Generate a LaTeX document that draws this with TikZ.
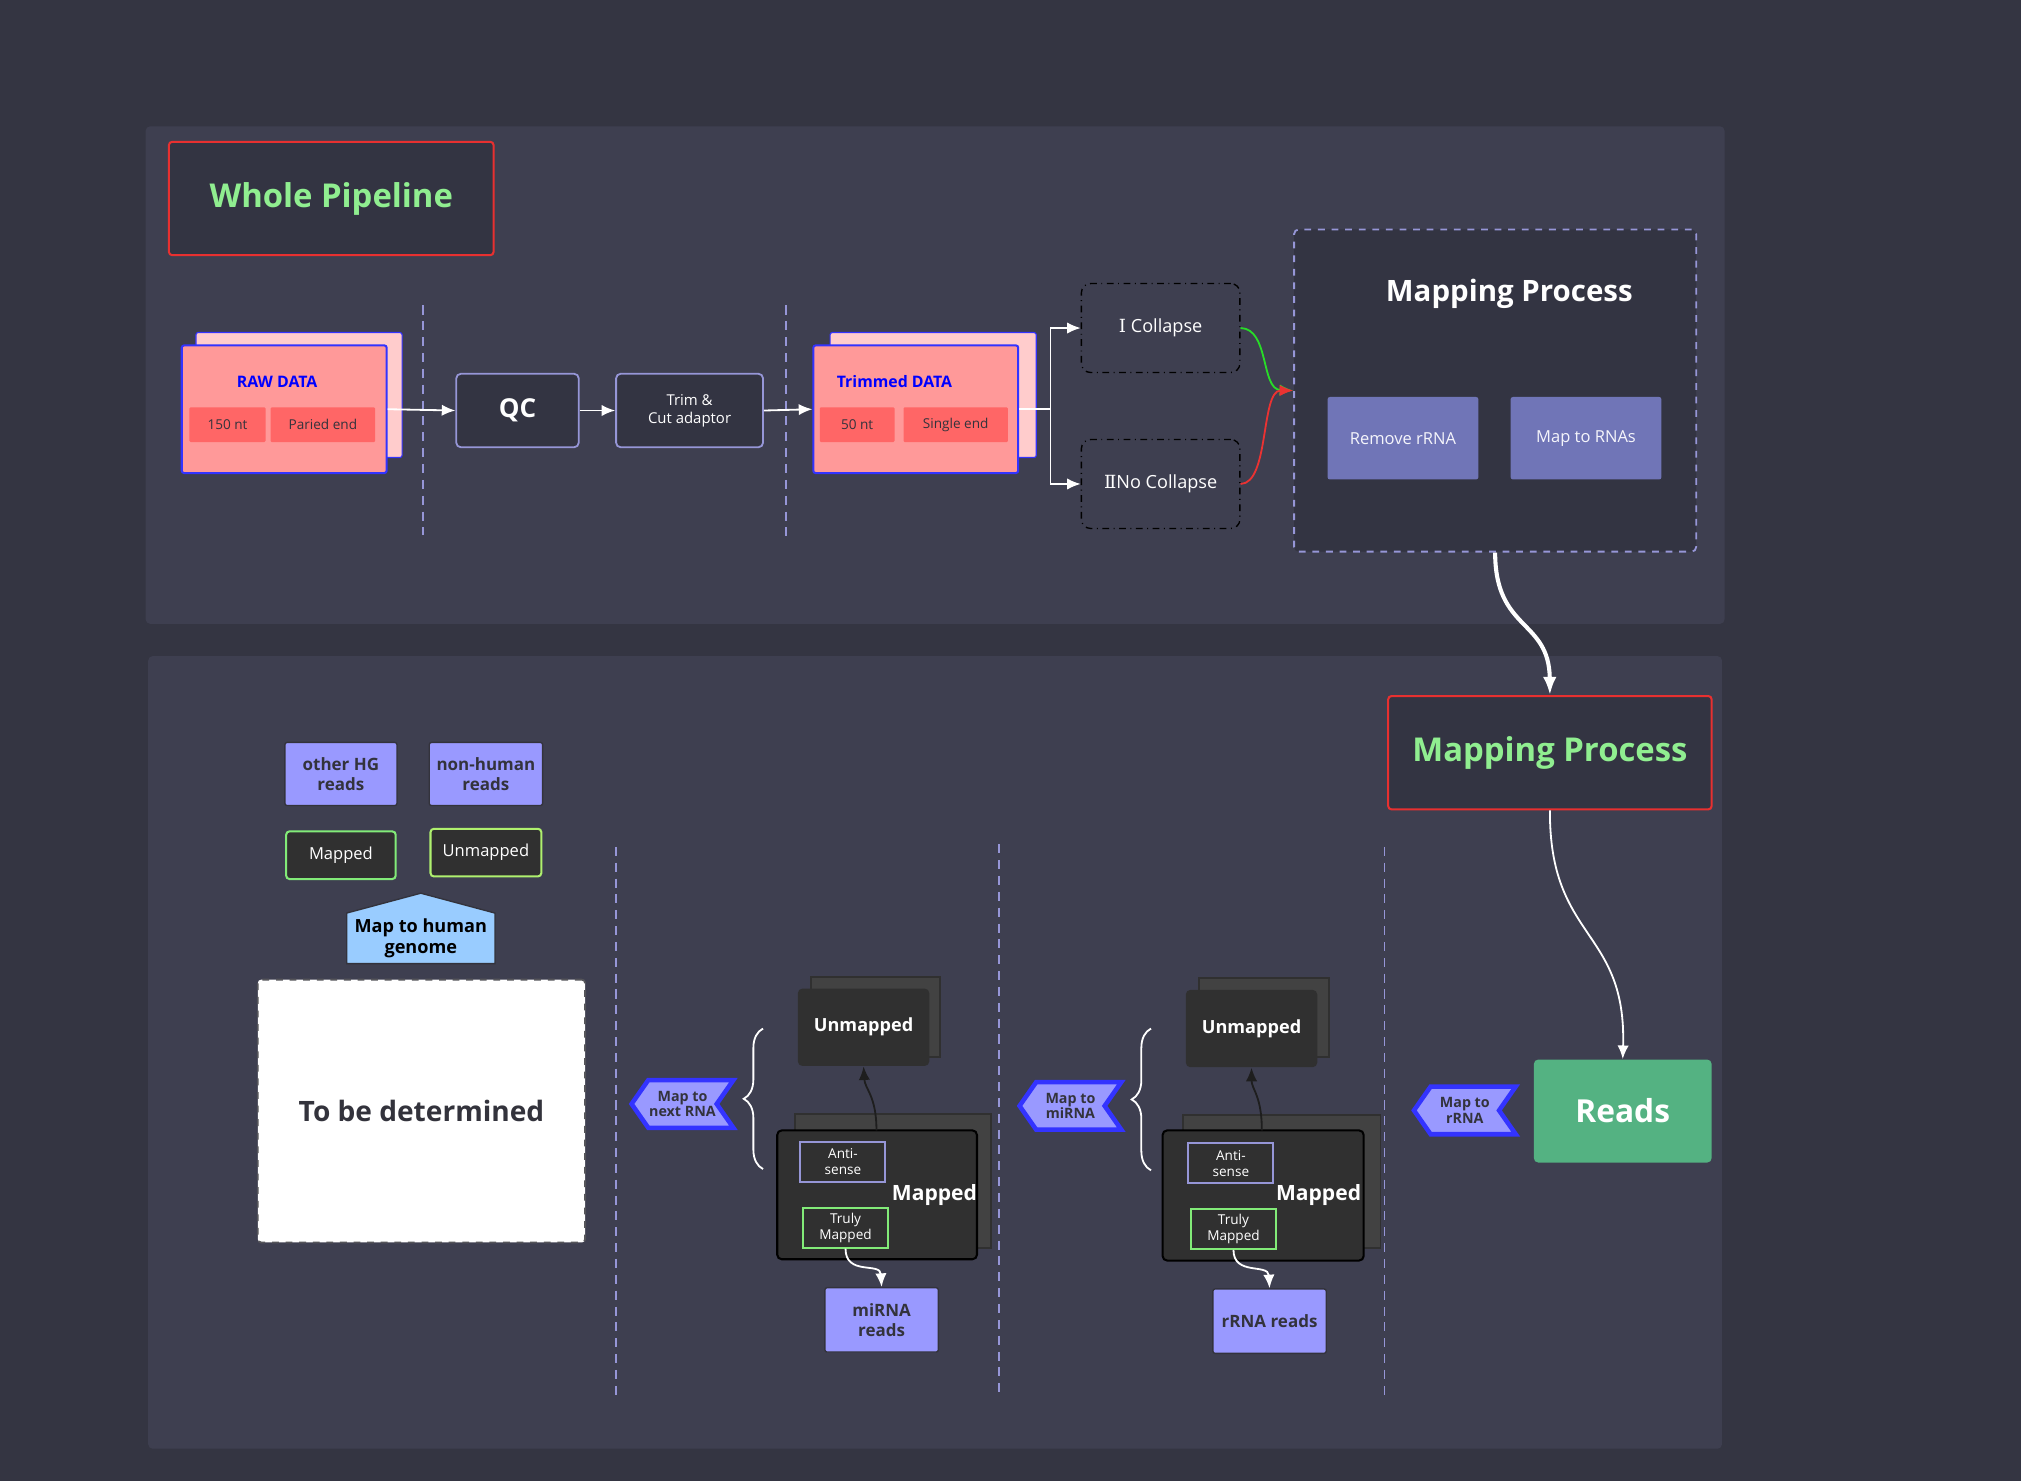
\documentclass[tikz,border=0pt]{standalone}
\usepackage{xcolor}
\usepackage{fontspec}
\setmainfont{Open Sans}
\newfontfamily\numfont{DejaVu Serif}
\usepackage{tikz}
\usetikzlibrary{calc}
\usetikzlibrary{arrows.meta}
\usetikzlibrary{shapes}
\usetikzlibrary{shapes.symbols}
\usetikzlibrary{decorations.pathreplacing}

\definecolor{bgc}{RGB}{52,53,66}
\definecolor{panelc}{RGB}{62,63,80}
\definecolor{boxc}{RGB}{51,52,66}
\definecolor{redc}{RGB}{232,48,48}
\definecolor{greenc}{RGB}{144,238,144}
\definecolor{pinkl}{RGB}{255,204,204}
\definecolor{pinkc}{RGB}{255,153,153}
\definecolor{cellc}{RGB}{255,102,102}
\definecolor{bluec}{RGB}{51,51,255}
\definecolor{linec}{RGB}{150,150,215}
\definecolor{midc}{RGB}{112,117,183}
\definecolor{lavc}{RGB}{153,153,255}
\definecolor{darkc}{RGB}{51,51,60}
\definecolor{stackc}{RGB}{48,48,48}
\definecolor{stackb}{RGB}{66,66,66}
\definecolor{readsc}{RGB}{84,178,130}
\definecolor{skyc}{RGB}{153,204,255}
\definecolor{legc}{RGB}{130,235,120}

\tikzset{
  titlebox/.style={rectangle, draw=redc, line width=0.9pt, fill=boxc, rounded corners=1.5pt, text=greenc, font=\fontsize{14.5}{17}\selectfont\bfseries, inner sep=0pt},
  databack/.style={rectangle, fill=pinkl, draw=bluec, line width=0.5pt, rounded corners=1pt, inner sep=0pt},
  datafront/.style={rectangle, fill=pinkc, draw=bluec, line width=0.9pt, rounded corners=1pt, inner sep=0pt},
  datalbl/.style={text=blue, font=\fontsize{7}{8}\selectfont\bfseries},
  datacell/.style={rectangle, fill=cellc, rounded corners=0.5pt, text=darkc, font=\fontsize{6}{7}\selectfont, inner sep=0pt},
  stepbox/.style={rectangle, draw=linec, fill=boxc, line width=0.8pt, rounded corners=2pt, text=white, align=center, inner sep=0pt},
  colbox/.style={rectangle, draw=black, dash dot, rounded corners=4pt, line width=0.6pt, text=white, font=\fontsize{8}{9}\selectfont, inner sep=0pt},
  mapcell/.style={rectangle, fill=midc, rounded corners=1pt, text=white!90!linec, font=\fontsize{7.3}{9}\selectfont, inner sep=0pt},
  readbox/.style={rectangle, fill=lavc, draw=darkc, line width=0.6pt, rounded corners=1pt, text=darkc, font=\fontsize{7.5}{9}\selectfont\bfseries, align=center, inner sep=0pt},
  legbox/.style={rectangle, fill=stackc, draw=legc, line width=0.9pt, rounded corners=1.5pt, text=white, font=\fontsize{7.3}{9}\selectfont, inner sep=0pt},
  tagbox/.style={signal, signal to=west, signal from=east, signal pointer angle=110, fill=lavc, draw=bluec, line width=2pt, text=darkc, font=\fontsize{6.3}{7}\selectfont\bfseries, align=center, inner sep=0pt, minimum width=1.58cm, minimum height=0.74cm},
  stackback/.style={rectangle, fill=stackb, draw=stackc, line width=0.8pt, inner sep=0pt},
  stackfront/.style={rectangle, fill=stackc, draw=black, line width=0.9pt, rounded corners=2pt, inner sep=0pt},
  unmbox/.style={rectangle, fill=stackc, rounded corners=2pt, inner sep=0pt, text=white, font=\fontsize{8}{10}\selectfont\bfseries, minimum width=2.04cm, minimum height=1.2cm},
  innerbox/.style={rectangle, fill=stackc, line width=0.9pt, text=white, font=\fontsize{6}{7}\selectfont, align=center, inner sep=0pt, minimum width=1.32cm, minimum height=0.62cm},
  sepline/.style={draw=linec, line width=0.7pt, dash pattern=on 4pt off 3pt},
  wline/.style={draw=white, line width=0.8pt},
}

\begin{document}
\begin{tikzpicture}[x=0.02cm, y=-0.02cm]
\useasboundingbox (0,0) rectangle (1568,1149);
\fill [bgc] (0,0) rectangle (1568,1149);
\fill [panelc, rounded corners=2pt] (113,98) rectangle (1338,484);
\fill [panelc, rounded corners=2pt] (115,509) rectangle (1336,1124);

% whole pipeline
\node [titlebox, minimum width=5.04cm, minimum height=1.76cm] (WP) at (257,154) {Whole Pipeline};

\node [databack, minimum width=3.2cm, minimum height=1.94cm] (RawB) at (232,306.5) {};
\node [datafront, minimum width=3.18cm, minimum height=1.98cm] (Raw) at (220.5,317.5) {};
\node [datalbl] (RawL) at (215,296) {RAW DATA};
\node [datacell, minimum width=1.18cm, minimum height=0.54cm] (N150) at (176.5,329.5) {150 nt};
\node [datacell, minimum width=1.62cm, minimum height=0.54cm] (PE) at (250.5,329.5) {Paried end};

\node [stepbox, minimum width=1.9cm, minimum height=1.14cm, font=\fontsize{11.5}{14}\selectfont\bfseries] (QC) at (401.5,318.5) {QC};
\node [stepbox, minimum width=2.28cm, minimum height=1.14cm, font=\fontsize{6.6}{8}\selectfont] (Trim) at (535,318.5) {Trim \&\\Cut adaptor};

\node [databack, minimum width=3.2cm, minimum height=1.94cm] (TrimB) at (724,306.5) {};
\node [datafront, minimum width=3.18cm, minimum height=1.98cm] (Trd) at (710.5,317.5) {};
\node [datalbl] (TrdL) at (694,296) {Trimmed DATA};
\node [datacell, minimum width=1.16cm, minimum height=0.54cm] (N50) at (665,329.5) {50 nt};
\node [datacell, minimum width=1.62cm, minimum height=0.54cm] (SE) at (741.5,329.5) {Single end};

\node [colbox, minimum width=2.46cm, minimum height=1.38cm] (ICol) at (900.5,254.5) {{\numfont Ⅰ} Collapse};
\node [colbox, minimum width=2.46cm, minimum height=1.38cm] (IICol) at (900.5,375.5) {{\numfont Ⅱ}No Collapse};

\node [rectangle, draw=linec, dashed, line width=0.8pt, fill=boxc, rounded corners=2pt, minimum width=6.24cm, minimum height=5cm] (MP) at (1160,303) {};
\node [text=white, font=\fontsize{13}{15}\selectfont\bfseries] (MPL) at (1171,228) {Mapping Process};
\node [mapcell, minimum width=2.34cm, minimum height=1.28cm] (RmR) at (1088.5,340) {Remove rRNA};
\node [mapcell, minimum width=2.34cm, minimum height=1.28cm] (MapR) at (1230.5,340) {Map to RNAs};

\draw [sepline] (328,237) -- (328,415);
\draw [sepline] (610,237) -- (610,418);

\coordinate (Split) at (815,317.5);
\draw [-{Latex[length=6pt,width=5pt]}, wline] (Raw.east) -- (QC.west);
\draw [-{Latex[length=6pt,width=5pt]}, wline] (QC.east) -- (Trim.west);
\draw [-{Latex[length=6pt,width=5pt]}, wline] (Trim.east) -- (Trd.west);
\draw [wline] (Trd.east) -- (Split);
\draw [-{Latex[length=6pt,width=5pt]}, wline] (Split) |- (ICol.west);
\draw [-{Latex[length=6pt,width=5pt]}, wline] (Split) |- (IICol.west);
\draw [-{Latex[length=6pt,width=5pt]}, draw={rgb,255:red,40;green,220;blue,40}, line width=0.8pt] (ICol.east) .. controls (985,255) and (978,302) .. (MP.west);
\draw [-{Latex[length=6pt,width=5pt]}, draw={rgb,255:red,235;green,50;blue,50}, line width=0.8pt] (IICol.east) .. controls (985,375) and (978,303) .. (MP.west);

% mapping process
\node [titlebox, minimum width=5.02cm, minimum height=1.76cm] (MP2) at (1202.5,584) {Mapping Process};
\draw [-{Latex[length=8pt,width=6pt]}, draw=white, line width=1.8pt] (MP.south) .. controls (1160,490) and (1202,480) .. (MP2.north);
\node [rectangle, fill=readsc, rounded corners=2pt, text=white, font=\fontsize{14}{16}\selectfont\bfseries, minimum width=2.76cm, minimum height=1.6cm] (Reads) at (1259,862) {Reads};
\draw [-{Latex[length=6pt,width=5pt]}, wline] (MP2.south) .. controls (1202,730) and (1262,720) .. (Reads.north);
\node [tagbox] (TagR) at (1136.5,861.5) {Map to\\rRNA};

\draw [sepline] (478,657) -- (478,1085);
\draw [sepline] (775,655) -- (775,1085);
\draw [sepline] (1074,657) -- (1074,1085);

% rRNA step
\node [tagbox] (TagMi) at (830.5,858) {Map to\\miRNA};
\node [stackback, minimum width=2.02cm, minimum height=1.22cm] (UnB3) at (980.5,789.5) {};
\node [unmbox] (Un3) at (971,798) {Unmapped};
\node [stackback, minimum width=3.06cm, minimum height=2.06cm] (MaB3) at (994.5,916.5) {};
\node [stackfront, minimum width=3.12cm, minimum height=2.02cm] (Ma3) at (980,927.5) {};
\node [text=white, font=\fontsize{9.3}{11}\selectfont\bfseries] (Ma3L) at (1023,927) {Mapped};
\node [innerbox, draw=linec] (Anti3) at (955,902.5) {Anti-\\sense};
\node [innerbox, draw=legc] (Tru3) at (957,953.5) {Truly\\Mapped};
\node [readbox, minimum width=1.76cm, minimum height=1cm] (RR) at (985,1025) {rRNA reads};
\draw [-{Latex[length=6pt,width=5pt]}, draw={rgb,255:red,30;green,30;blue,30}, line width=0.8pt] (979,877) .. controls (979,850) and (971,845) .. (Un3.south);
\draw [-{Latex[length=6pt,width=5pt]}, wline] (Tru3.south) .. controls (957,990) and (984,980) .. (RR.north);
\draw [wline, decorate, decoration={brace, amplitude=0.3cm}] (893,908) -- (893,798);

% miRNA step
\node [tagbox] (TagNx) at (529.5,856.5) {Map to\\next RNA};
\node [stackback, minimum width=2cm, minimum height=1.24cm] (UnB2) at (679,789) {};
\node [unmbox] (Un2) at (670,797) {Unmapped};
\node [stackback, minimum width=3.04cm, minimum height=2.08cm] (MaB2) at (693,916) {};
\node [stackfront, minimum width=3.1cm, minimum height=2cm] (Ma2) at (680.5,927) {};
\node [text=white, font=\fontsize{9.3}{11}\selectfont\bfseries] (Ma2L) at (725,927) {Mapped};
\node [innerbox, draw=linec] (Anti2) at (654,901.5) {Anti-\\sense};
\node [innerbox, draw=legc] (Tru2) at (656,952.5) {Truly\\Mapped};
\node [readbox, minimum width=1.76cm, minimum height=1cm] (MiR) at (684,1024) {miRNA\\reads};
\draw [-{Latex[length=6pt,width=5pt]}, draw={rgb,255:red,30;green,30;blue,30}, line width=0.8pt] (680,877) .. controls (680,850) and (671,845) .. (Un2.south);
\draw [-{Latex[length=6pt,width=5pt]}, wline] (Tru2.south) .. controls (656,990) and (683,979) .. (MiR.north);
\draw [wline, decorate, decoration={brace, amplitude=0.3cm}] (592,907) -- (592,798);

% human genome
\node [readbox, minimum width=1.74cm, minimum height=0.98cm] (OHG) at (264.5,600.5) {other HG\\reads};
\node [readbox, minimum width=1.76cm, minimum height=0.98cm] (NH) at (377,600.5) {non-human\\reads};
\node [legbox, minimum width=1.7cm, minimum height=0.74cm] (LMa) at (264.5,663.5) {Mapped};
\node [legbox, draw={rgb,255:red,175;green,240;blue,110}, minimum width=1.72cm, minimum height=0.74cm] (LUn) at (377,661.5) {Unmapped};
\node [signal, signal to=north, signal from=nowhere, signal pointer angle=150, fill=skyc, draw=darkc, line width=0.6pt, text=black, font=\fontsize{8}{9}\selectfont\bfseries, align=center, inner sep=0pt, minimum width=2.3cm, minimum height=1.06cm] (HG) at (326.5,728) {Map to human\\genome};
\node [rectangle, fill=white, draw={rgb,255:red,85;green,85;blue,90}, dashed, line width=0.8pt, rounded corners=1.5pt, text=darkc, font=\fontsize{12.4}{15}\selectfont\bfseries, minimum width=5.08cm, minimum height=4.08cm] (TBD) at (327,862) {To be determined};
\end{tikzpicture}
\end{document}
